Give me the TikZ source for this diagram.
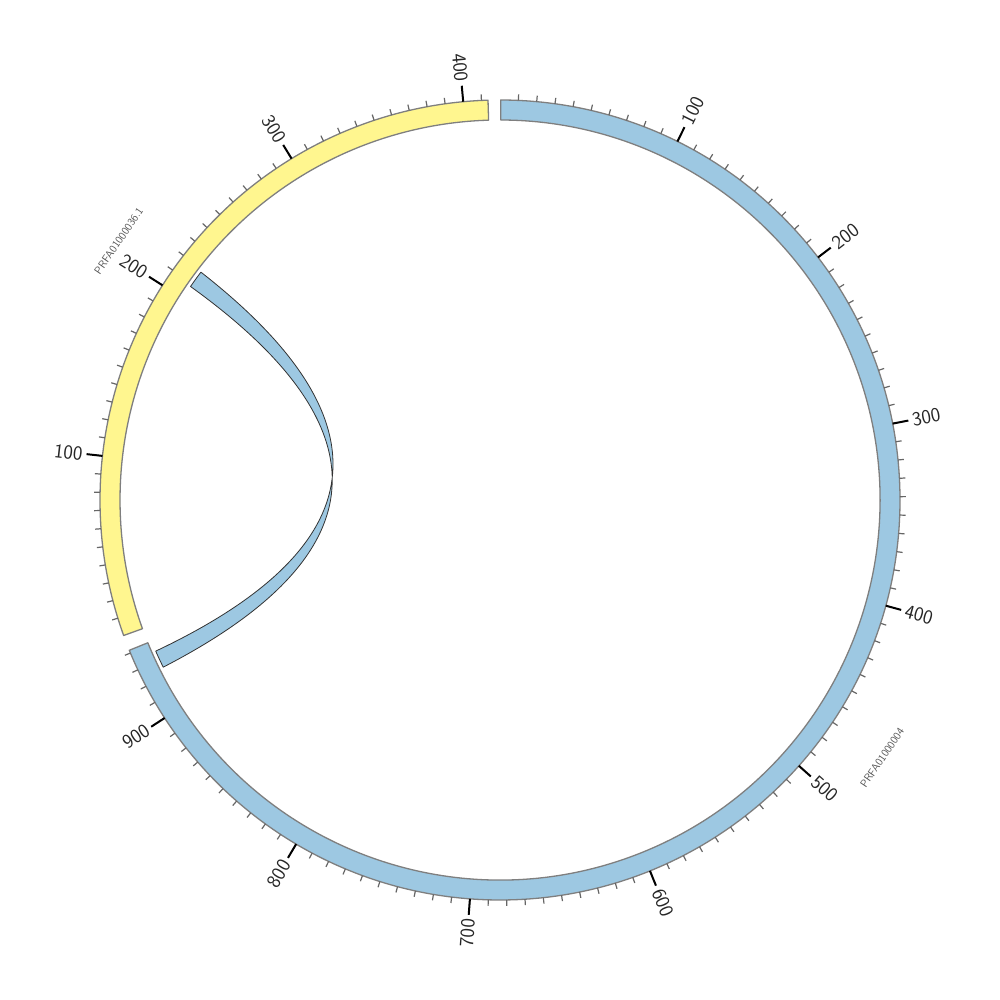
\documentclass[tikz,border=0pt]{standalone}
\usepackage{fontspec}
\usetikzlibrary{calc}
\definecolor{segblue}{HTML}{9DC8E2}
\definecolor{segyellow}{HTML}{FFF68F}
\definecolor{segline}{HTML}{7F7F7F}
\definecolor{minorcol}{HTML}{666666}
\definecolor{labelcol}{HTML}{262626}
\definecolor{namecol}{HTML}{555555}
\begin{document}
\begin{tikzpicture}[x=1pt,y=1pt,
  segment/.style={draw=segline,line width=1.3pt,line join=round},
  ribbon/.style={fill=segblue,draw=black!80,line width=0.8pt,line join=round},
  minortick/.style={draw=minorcol,line width=1.2pt},
  majortick/.style={draw=black,line width=2pt},
  ticklabel/.style={text=labelcol,font=\fontsize{20}{22}\selectfont\sffamily,inner sep=0pt},
  namelabel/.style={text=namecol,font=\fontsize{11}{13}\selectfont\sffamily,inner sep=0pt}]
\useasboundingbox (0,0) rectangle (1000,1000);
\begin{scope}[shift={(500,500)}]
  % ideogram segments
  \path[segment,fill=segblue] (89.9:400) arc[start angle=89.9,end angle=-157.93,radius=400]
     -- (-157.93:380) arc[start angle=-157.93,end angle=89.9,radius=380] -- cycle;
  \path[segment,fill=segyellow] (199.8:400) arc[start angle=199.8,end angle=91.72,radius=400]
     -- (91.72:380) arc[start angle=91.72,end angle=199.8,radius=380] -- cycle;
  % blue ticks
  \foreach \u in {10,20,...,940}{
    \pgfmathsetmacro\p{90-0.2633*\u}
    \draw[minortick] (\p:400) -- (\p:406);
  }
  \foreach \u in {100,200,...,900}{
    \pgfmathsetmacro\p{90-0.2633*\u}
    \draw[majortick] (\p:400) -- (\p:416);
    \pgfmathsetmacro\th{0.2633*\u}
    \ifdim\th pt<180pt
      \node[ticklabel,rotate=\p,anchor=west] (bl\u) at (\p:420) {\u};
    \else
      \node[ticklabel,rotate=\p+180,anchor=east] (bl\u) at (\p:420) {\u};
    \fi
  }
  % yellow ticks
  \foreach \u in {10,20,...,410}{
    \pgfmathsetmacro\p{90-250.2-0.2613*\u}
    \draw[minortick] (\p:400) -- (\p:406);
  }
  \foreach \u in {100,200,300,400}{
    \pgfmathsetmacro\p{90-250.2-0.2613*\u}
    \draw[majortick] (\p:400) -- (\p:416);
    \node[ticklabel,rotate=\p+180,anchor=east] (yl\u) at (\p:420) {\u};
  }
  % names
  \node[namelabel,rotate=56] (nameblue) at (-34:461) {PRFA01000004};
  \node[namelabel,rotate=55.8] (nameyellow) at (145.8:461) {PRFA01000036.1};
  % ribbon
  \coordinate (A1) at (-156.3:376);
  \coordinate (A2) at (-153.6:376);
  \coordinate (B1) at (145.4:376);
  \coordinate (B2) at (142.7:376);
  \coordinate (C1) at (-14,5);
  \coordinate (C2) at (-13,0);
  \path[ribbon] (B2) .. controls ($(B2)!0.6667!(C1)$) and ($(A1)!0.6667!(C1)$) .. (A1)
     arc[start angle=-156.3,end angle=-153.6,radius=376]
     .. controls ($(A2)!0.6667!(C2)$) and ($(B1)!0.6667!(C2)$) .. (B1)
     arc[start angle=145.4,end angle=142.7,radius=376] -- cycle;
\end{scope}
\end{tikzpicture}
\end{document}
